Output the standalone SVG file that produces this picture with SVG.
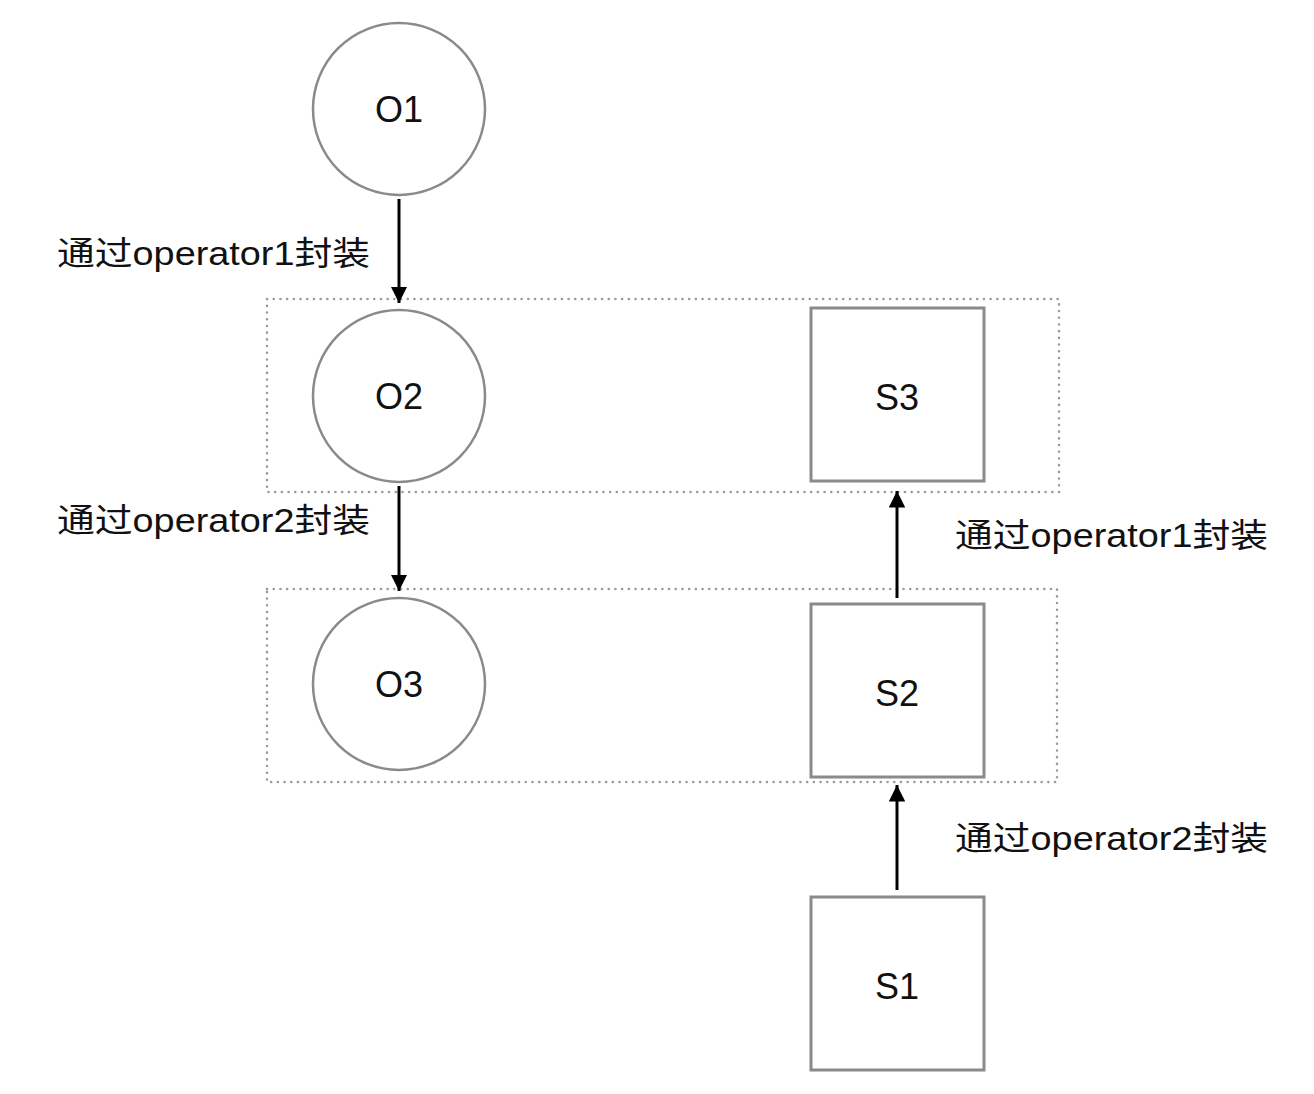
<svg xmlns="http://www.w3.org/2000/svg" width="1314" height="1094" viewBox="0 0 1314 1094">
<defs>
<style>
.c{fill:#fff;stroke:#8a8a8a;stroke-width:2.5}
.r{fill:#fff;stroke:#8a8a8a;stroke-width:3}
.g{fill:none;stroke:#9a9a9a;stroke-width:2.5;stroke-dasharray:0.1 6.6;stroke-linecap:round}
.t{font-family:"Liberation Sans","Noto Sans CJK SC",sans-serif;font-size:36px;fill:#111;text-anchor:middle}
.l{font-family:"Liberation Sans","Noto Sans CJK SC",sans-serif;font-size:33px;fill:#111}
.e{stroke:#000;stroke-width:3;fill:none}
</style>
<marker id="a" viewBox="0 0 10 10" refX="10" refY="5" markerWidth="5.5" markerHeight="5.5" orient="auto" markerUnits="strokeWidth">
<path d="M0,0 L10,5 L0,10 z" fill="#000"/>
</marker>
</defs>
<rect width="1314" height="1094" fill="#fff"/>
<g id="groups">
<rect class="g" x="267" y="299" width="792" height="193"/>
<rect class="g" x="267" y="589" width="790" height="193"/>
</g>
<g id="O1"><circle class="c" cx="399" cy="109" r="86"/><text class="t" x="399" y="122">O1</text></g>
<g id="O2"><circle class="c" cx="399" cy="396" r="86"/><text class="t" x="399" y="409">O2</text></g>
<g id="O3"><circle class="c" cx="399" cy="684" r="86"/><text class="t" x="399" y="697">O3</text></g>
<g id="S3"><rect class="r" x="811" y="308" width="173" height="173"/><text class="t" x="897" y="410">S3</text></g>
<g id="S2"><rect class="r" x="811" y="604" width="173" height="173"/><text class="t" x="897" y="706">S2</text></g>
<g id="S1"><rect class="r" x="811" y="897" width="173" height="173"/><text class="t" x="897" y="999">S1</text></g>
<g id="connectors">
<line class="e" x1="399" y1="199" x2="399" y2="303" marker-end="url(#a)"/>
<line class="e" x1="399" y1="486" x2="399" y2="591" marker-end="url(#a)"/>
<line class="e" x1="897" y1="598" x2="897" y2="491" marker-end="url(#a)"/>
<line class="e" x1="897" y1="890" x2="897" y2="785" marker-end="url(#a)"/>
</g>
<g id="labels">
<text class="l" x="57" y="265" textLength="313" lengthAdjust="spacingAndGlyphs">通过operator1封装</text>
<text class="l" x="57" y="532" textLength="313" lengthAdjust="spacingAndGlyphs">通过operator2封装</text>
<text class="l" x="955" y="547" textLength="313" lengthAdjust="spacingAndGlyphs">通过operator1封装</text>
<text class="l" x="955" y="850" textLength="313" lengthAdjust="spacingAndGlyphs">通过operator2封装</text>
</g>
</svg>
